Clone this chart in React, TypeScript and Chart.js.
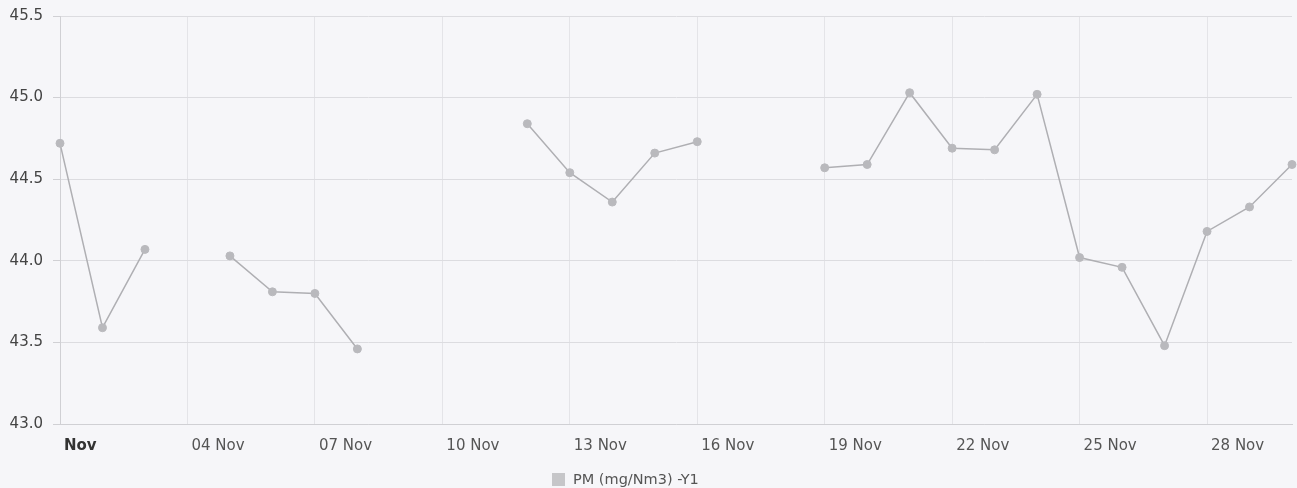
import React, { useEffect, useRef } from "react";
import { Chart, registerables } from "chart.js";

Chart.register(...registerables);

// Day of November for each reading
const days = [
  1, 2, 3, 4, 5, 6, 7, 8, 9, 10, 11, 12, 13, 14, 15, 16, 17, 18, 19, 20, 21, 22,
  23, 24, 25, 26, 27, 28, 29, 30,
];

// PM values (null = no reading)
const pmValues: (number | null)[] = [
  44.72, 43.59, 44.07, null, 44.03, 43.81, 43.8, 43.46, null, null, null, 44.84,
  44.54, 44.36, 44.66, 44.73, null, null, 44.57, 44.59, 45.03, 44.69, 44.68,
  45.02, 44.02, 43.96, 43.48, 44.18, 44.33, 44.59,
];

const xTickDays = [1, 4, 7, 10, 13, 16, 19, 22, 25, 28];
const xTickLabels = [
  "Nov",
  "04 Nov",
  "07 Nov",
  "10 Nov",
  "13 Nov",
  "16 Nov",
  "19 Nov",
  "22 Nov",
  "25 Nov",
  "28 Nov",
];
const yTicks = [43.0, 43.5, 44.0, 44.5, 45.0, 45.5];
const seriesLabel = "PM (mg/Nm3) -Y1";

const FONT = "'DejaVu Sans', Verdana, sans-serif";

export default function App() {
  const canvasRef = useRef<HTMLCanvasElement | null>(null);

  useEffect(() => {
    const canvas = canvasRef.current;
    if (!canvas) return;
    const data = days.map((d, i) => ({ x: d, y: pmValues[i] }));
    const chart = new Chart(canvas, {
      type: "line",
      data: {
        datasets: [
          {
            label: seriesLabel,
            data: data as any,
            borderColor: "#afafb3",
            borderWidth: 1.5,
            pointRadius: 4,
            pointBackgroundColor: "#b9b9bd",
            pointBorderColor: "#b9b9bd",
            pointBorderWidth: 1,
            spanGaps: false,
            tension: 0,
            clip: false as any,
          },
        ],
      },
      options: {
        responsive: false,
        animation: false,
        layout: { padding: { top: 16, right: 4, left: 0, bottom: 0 } },
        plugins: {
          legend: { display: false },
          tooltip: { enabled: false },
        },
        scales: {
          x: {
            type: "linear",
            min: 1,
            max: 30,
            afterBuildTicks: (axis: any) => {
              axis.ticks = xTickDays.map((v) => ({ value: v }));
            },
            afterFit: (axis: any) => {
              axis.height = 64;
            },
            grid: {
              color: "#e4e4e8",
              drawTicks: false,
            },
            border: { color: "#d0d0d4", width: 1 },
            ticks: {
              align: "start",
              labelOffset: 4,
              padding: 13,
              maxRotation: 0,
              autoSkip: false,
              color: (ctx: any) => (ctx.index === 0 ? "#333" : "#555"),
              font: (ctx: any) =>
                ctx.index === 0
                  ? { family: FONT, size: 15, weight: "bold" }
                  : { family: FONT, size: 15 },
              callback: (value: any) => {
                const idx = xTickDays.indexOf(Number(value));
                return idx >= 0 ? xTickLabels[idx] : "";
              },
            },
          },
          y: {
            type: "linear",
            min: 43,
            max: 45.5,
            afterBuildTicks: (axis: any) => {
              axis.ticks = yTicks.map((v) => ({ value: v }));
            },
            afterFit: (axis: any) => {
              axis.width = 60;
              axis.paddingTop = 0;
              axis.paddingBottom = 0;
            },
            grid: {
              color: "#dcdce0",
              tickLength: 7,
              tickColor: "#d0d0d4",
            },
            border: { color: "#d0d0d4", width: 1 },
            ticks: {
              padding: 10,
              color: "#444",
              font: { family: FONT, size: 15 },
              callback: (value: any) => Number(value).toFixed(1),
            },
          },
        },
      },
    });
    return () => chart.destroy();
  }, []);

  return (
    <div
      style={{
        position: "fixed",
        left: 0,
        top: 0,
        width: 1297,
        height: 488,
        background: "#f6f6f9",
        overflow: "hidden",
      }}
    >
      <canvas
        ref={canvasRef}
        width={1297}
        height={488}
        style={{ display: "block", width: 1297, height: 488 }}
      />
      <div
        style={{
          position: "absolute",
          left: 552,
          top: 470,
          height: 18,
          display: "flex",
          alignItems: "center",
          fontFamily: FONT,
          fontSize: 14.5,
          color: "#555",
          whiteSpace: "nowrap",
        }}
      >
        <span
          style={{
            display: "inline-block",
            width: 13,
            height: 13,
            background: "#c6c6c9",
            marginRight: 8,
          }}
        />
        <span>{seriesLabel}</span>
      </div>
    </div>
  );
}
